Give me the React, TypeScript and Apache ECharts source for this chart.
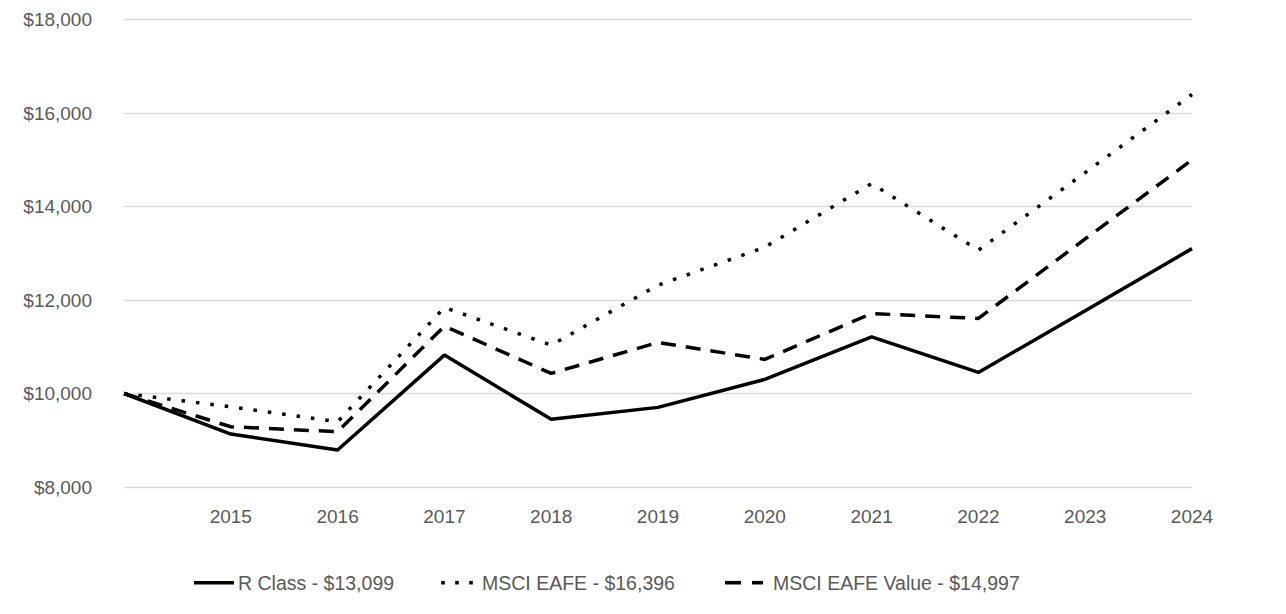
import React, { useEffect, useRef } from "react";
import * as echarts from "echarts";

const years = ["", "2015", "2016", "2017", "2018", "2019", "2020", "2021", "2022", "2023", "2024"];
const rClass = [10000, 9133, 8791, 10821, 9447, 9703, 10302, 11212, 10450, 11772, 13099];
const msciEafe = [10000, 9716, 9396, 11840, 11035, 12317, 13129, 14490, 13065, 14725, 16396];
const msciEafeValue = [10000, 9289, 9182, 11441, 10430, 11092, 10729, 11711, 11605, 13307, 14997];
const seriesNames = ["R Class - $13,099", "MSCI EAFE - $16,396", "MSCI EAFE Value - $14,997"];
const yTicks = { min: 8000, max: 18000, interval: 2000 };

const FONT = "'Liberation Sans', Arial, Helvetica, sans-serif";
const TEXT = "#595959";

function legendGraphics() {
  const cy = 582.7;
  const h = 3.6;
  const y = cy - h / 2;
  const rect = (x: number, w: number) => ({
    type: "rect",
    shape: { x, y, width: w, height: h },
    style: { fill: "#000000" },
    silent: true,
  });
  const text = (x: number, t: string) => ({
    type: "text",
    x,
    y: cy,
    style: {
      text: t,
      fill: TEXT,
      font: `19.5px ${FONT}`,
      verticalAlign: "middle",
      align: "left",
    },
    silent: true,
  });
  return [
    rect(194, 40),
    text(238, seriesNames[0]),
    rect(441.2, 3.6),
    rect(455.2, 3.6),
    rect(469.2, 3.6),
    text(482, seriesNames[1]),
    rect(725, 16),
    rect(752, 11),
    text(773, seriesNames[2]),
  ];
}

export default function App() {
  const ref = useRef<HTMLDivElement>(null);
  useEffect(() => {
    if (!ref.current) return;
    const chart = echarts.init(ref.current, null, { renderer: "svg" });
    chart.setOption({
      animation: false,
      backgroundColor: "#ffffff",
      textStyle: { fontFamily: FONT },
      grid: { left: 124, right: 94, top: 19.5, bottom: 127, containLabel: false },
      legend: { show: false, data: seriesNames },
      graphic: legendGraphics(),
      xAxis: {
        type: "category",
        data: years,
        boundaryGap: false,
        axisLine: { show: false },
        axisTick: { show: false },
        splitLine: { show: false },
        axisLabel: { color: TEXT, fontSize: 19, fontFamily: FONT, margin: 20, interval: 0 },
      },
      yAxis: {
        type: "value",
        min: yTicks.min,
        max: yTicks.max,
        interval: yTicks.interval,
        axisLine: { show: false },
        axisTick: { show: false },
        splitLine: { show: true, lineStyle: { color: "#d9d9d9", width: 1.3 } },
        axisLabel: {
          color: TEXT,
          fontSize: 19,
          fontFamily: FONT,
          margin: 32,
          formatter: (v: number) => "$" + v.toLocaleString("en-US"),
        },
      },
      series: [
        {
          name: seriesNames[0],
          type: "line",
          data: rClass,
          symbol: "none",
          color: "#000000",
          lineStyle: { color: "#000000", width: 3.5, type: "solid" },
        },
        {
          name: seriesNames[1],
          type: "line",
          data: msciEafe,
          symbol: "none",
          color: "#000000",
          lineStyle: { color: "#000000", width: 3.5, type: [3.5, 11], cap: "butt" },
        },
        {
          name: seriesNames[2],
          type: "line",
          data: msciEafeValue,
          symbol: "none",
          color: "#000000",
          lineStyle: { color: "#000000", width: 3.5, type: [15, 10], cap: "butt" },
        },
      ],
    });
    return () => chart.dispose();
  }, []);
  return (
    <div
      ref={ref}
      style={{ position: "absolute", left: 0, top: 0, width: 1286, height: 614 }}
    />
  );
}
